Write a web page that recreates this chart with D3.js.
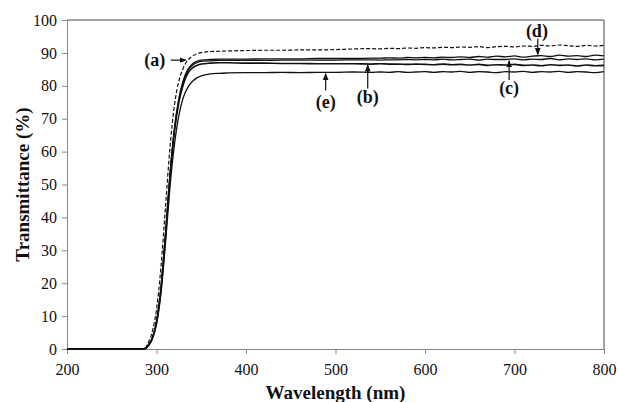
<!DOCTYPE html>
<html>
<head>
<meta charset="utf-8">
<script src="https://cdn.jsdelivr.net/npm/d3@7"></script>
<style>
  body { margin: 0; background: #fff; }
  svg { display: block; font-family: "Liberation Serif", "Times New Roman", serif; }
</style>
</head>
<body>
<div id="chart"></div>
<script>
// Wavelength grid (nm), fine at the absorption edge
const wavelengths = [200, 250, 280, 285, 288, 290, 295, 300, 305, 310, 315, 320, 325, 330, 335, 340, 345, 350, 360, 370, 380,
  400, 420, 440, 460, 480, 500, 520, 540,
  550, 560, 570, 580, 590, 600, 610, 620, 630, 640, 650, 660, 670, 680, 690, 700, 710, 720, 730, 740, 750, 760, 770, 780, 790, 800];

// Transmittance (%) for each sample
const seriesA = [0, 0, 0, 0.1, 0.5, 1.5, 5, 12, 25, 43, 61, 74, 81.5, 85.5, 87.8, 89, 89.7, 90.1, 90.4, 90.5, 90.6,
  90.7, 90.8, 90.8, 90.9, 90.9, 91.0, 91.2, 91.3,
  91.2, 91.4, 91.3, 91.5, 91.4, 91.6, 91.5, 91.7, 91.6, 91.8, 91.7, 91.9, 91.6, 91.9, 92.0, 91.8, 92.1, 92.0, 92.3, 92.1, 92.4, 92.2, 92.0, 92.3, 92.1, 92.3];
const seriesB = [0, 0, 0, 0, 0.2, 0.8, 3, 8, 18, 34, 52, 66, 75, 80.5, 83.8, 85.4, 86.2, 86.6, 86.9, 87.0, 87.0,
  86.9, 86.9, 86.8, 86.8, 86.7, 86.7, 86.7, 86.6,
  86.7, 86.6, 86.6, 86.5, 86.6, 86.5, 86.4, 86.6, 86.4, 86.5, 86.3, 86.5, 86.2, 86.4, 86.3, 86.5, 86.2, 86.3, 86.1, 86.4, 86.2, 86.3, 86.0, 86.3, 86.1, 86.2];
const seriesC = [0, 0, 0, 0, 0.2, 0.8, 3, 8.2, 18.5, 34.5, 52.5, 66.5, 75.8, 81.3, 84.6, 86.2, 87.0, 87.4, 87.6, 87.7, 87.7,
  87.7, 87.7, 87.8, 87.8, 87.8, 87.8, 87.9, 87.9,
  87.8, 87.9, 87.9, 88.0, 87.9, 88.0, 87.9, 88.1, 87.9, 88.0, 88.1, 87.8, 88.1, 88.0, 88.0, 88.2, 87.9, 88.1, 88.0, 88.3, 87.9, 88.2, 88.0, 88.2, 87.9, 88.1];
const seriesD = [0, 0, 0, 0, 0.2, 0.9, 3.2, 8.5, 19, 35, 53, 67, 76.2, 81.7, 85.0, 86.6, 87.4, 87.8, 88.0, 88.1, 88.1,
  88.1, 88.2, 88.2, 88.2, 88.3, 88.3, 88.3, 88.4,
  88.4, 88.5, 88.4, 88.6, 88.5, 88.6, 88.5, 88.7, 88.6, 88.8, 88.6, 88.9, 88.7, 89.0, 88.8, 89.1, 88.7, 89.0, 89.2, 88.9, 89.3, 89.0, 89.2, 88.9, 89.3, 89.1];
const seriesE = [0, 0, 0, 0, 0.2, 0.7, 2.8, 7.5, 17, 32, 49, 62, 71, 76.5, 79.5, 81.3, 82.4, 83.0, 83.6, 83.8, 83.9,
  84.0, 84.0, 84.1, 84.0, 84.1, 84.1, 84.2, 84.1,
  84.2, 84.1, 84.3, 84.1, 84.2, 84.3, 84.1, 84.3, 84.2, 84.4, 84.1, 84.3, 84.2, 84.0, 84.3, 84.2, 84.4, 84.1, 84.3, 84.2, 84.4, 84.1, 84.3, 84.2, 84.0, 84.3];

const xTicks = [200, 300, 400, 500, 600, 700, 800];
const yTicks = [0, 10, 20, 30, 40, 50, 60, 70, 80, 90, 100];

// Curve labels: text anchor and arrow (data coordinates)
const labels = ['(a)', '(b)', '(c)', '(d)', '(e)'];
const labelAt = [[298, 87.8], [536, 76.7], [694, 79.3], [725, 96.7], [489, 75.2]];
const arrowFrom = [[316, 87.8], [536, 79.2], [694, 81.8], [726, 94.3], [489, 78.6]];
const arrowTo = [[333, 87.8], [536, 86.3], [694, 87.6], [726, 89.5], [489, 83.7]];

const width = 618, height = 402;
const margin = { top: 20, right: 14, bottom: 53, left: 67 };

const svg = d3.select('#chart').append('svg')
  .attr('width', width)
  .attr('height', height);

const x = d3.scaleLinear().domain([200, 800]).range([margin.left, width - margin.right]);
const y = d3.scaleLinear().domain([0, 100]).range([height - margin.bottom, margin.top]);

// Frame (top and right)
svg.append('path')
  .attr('d', `M${x(200)},${y(100)}H${x(800)}V${y(0)}`)
  .attr('fill', 'none')
  .attr('stroke', '#444')
  .attr('stroke-width', 1);

// Axes
const xAxis = svg.append('g')
  .attr('transform', `translate(0,${y(0)})`)
  .call(d3.axisBottom(x).tickValues(xTicks).tickSize(5).tickPadding(10).tickSizeOuter(0));
const yAxis = svg.append('g')
  .attr('transform', `translate(${x(200)},0)`)
  .call(d3.axisLeft(y).tickValues(yTicks).tickSize(5).tickPadding(5).tickSizeOuter(0));

[xAxis, yAxis].forEach(g => {
  g.select('.domain').attr('stroke', '#888');
  g.selectAll('.tick line').attr('stroke', '#888');
  g.selectAll('.tick text')
    .attr('fill', '#111')
    .style('font-family', '"Liberation Serif", serif')
    .style('font-size', '16px');
});

// Axis titles
svg.append('text')
  .attr('x', (x(200) + x(800)) / 2)
  .attr('y', 399)
  .attr('text-anchor', 'middle')
  .style('font-size', '19px')
  .style('font-weight', 'bold')
  .attr('fill', '#111')
  .text('Wavelength (nm)');

svg.append('text')
  .attr('transform', `translate(22,${(y(0) + y(100)) / 2}) rotate(-90)`)
  .attr('text-anchor', 'middle')
  .attr('dy', '0.35em')
  .style('font-size', '19px')
  .style('font-weight', 'bold')
  .attr('fill', '#111')
  .text('Transmittance (%)');

// Lines
const line = d3.line()
  .x((d, i) => x(wavelengths[i]))
  .y(d => y(d))
  .curve(d3.curveMonotoneX);

const series = [
  { values: seriesE, width: 1.3, dash: null },
  { values: seriesB, width: 1.6, dash: null },
  { values: seriesC, width: 1.3, dash: null },
  { values: seriesD, width: 1.3, dash: null },
  { values: seriesA, width: 1.2, dash: '4,2' }
];

svg.append('g').selectAll('path')
  .data(series)
  .enter()
  .append('path')
  .attr('d', d => line(d.values))
  .attr('fill', 'none')
  .attr('stroke', '#111')
  .attr('stroke-width', d => d.width)
  .attr('stroke-dasharray', d => d.dash);

// Arrow marker
svg.append('defs').append('marker')
  .attr('id', 'arrow')
  .attr('viewBox', '0 0 10 10')
  .attr('refX', 9)
  .attr('refY', 5)
  .attr('markerWidth', 6)
  .attr('markerHeight', 6)
  .attr('orient', 'auto')
  .append('path')
  .attr('d', 'M0,1L10,5L0,9Z')
  .attr('fill', '#111');

const ann = svg.append('g');
labels.forEach((lab, i) => {
  ann.append('line')
    .attr('x1', x(arrowFrom[i][0]))
    .attr('y1', y(arrowFrom[i][1]))
    .attr('x2', x(arrowTo[i][0]))
    .attr('y2', y(arrowTo[i][1]))
    .attr('stroke', '#111')
    .attr('stroke-width', 1.2)
    .attr('marker-end', 'url(#arrow)');
  ann.append('text')
    .attr('x', x(labelAt[i][0]))
    .attr('y', y(labelAt[i][1]))
    .attr('dy', '0.35em')
    .attr('text-anchor', 'middle')
    .style('font-size', '18px')
    .style('font-weight', 'bold')
    .attr('fill', '#111')
    .text(lab);
});
</script>
</body>
</html>
